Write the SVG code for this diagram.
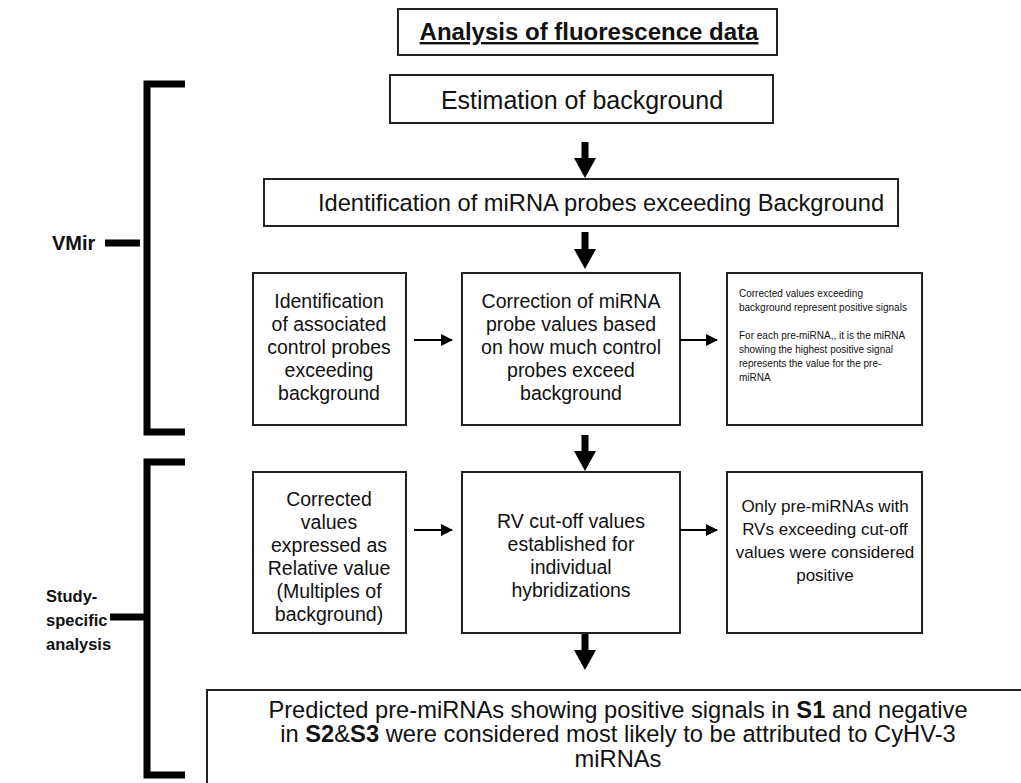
<svg xmlns="http://www.w3.org/2000/svg" width="1021" height="783" viewBox="0 0 1021 783">
  <style>
    text { font-family: "Liberation Sans", Arial, sans-serif; fill: #111; }
    .box { fill: #fff; stroke: #222; stroke-width: 2; }
    .c { text-anchor: middle; }
    .bold { font-weight: bold; }
    .thin { stroke: #000; stroke-width: 2; fill: none; }
    .thick { stroke: #000; stroke-width: 7; fill: none; }
    .head { fill: #000; }
    .brk { stroke: #000; stroke-width: 7; fill: none; }
  </style>
  <defs>
    <marker id="tri" viewBox="0 0 12 12" refX="11" refY="6" markerWidth="12" markerHeight="12" markerUnits="userSpaceOnUse" orient="auto">
      <path d="M0,0 L12,6 L0,12 Z" fill="#000"/>
    </marker>
  </defs>
  <rect width="1021" height="783" fill="#fff"/>

  <!-- title -->
  <g id="title">
    <rect class="box" x="398" y="9" width="379" height="46"/>
    <text class="c bold" x="589" y="40" font-size="24" text-decoration="underline">Analysis of fluorescence data</text>
  </g>

  <!-- section brackets -->
  <g id="bracket-vmir">
    <path class="brk" d="M185,84 H147 V432 H185"/>
    <path class="brk" d="M105,243 H140"/>
    <text class="bold" x="52" y="250" font-size="20">VMir</text>
  </g>
  <g id="bracket-study">
    <path class="brk" d="M185,462 H147 V775 H185"/>
    <path class="brk" d="M110,617 H147"/>
    <text class="bold" font-size="16.5"><tspan x="46" y="602">Study-</tspan><tspan x="46" y="626">specific</tspan><tspan x="46" y="650">analysis</tspan></text>
  </g>

  <g id="estimation">
    <rect class="box" x="390" y="75" width="383" height="48"/>
    <text class="c" x="582" y="109" font-size="25">Estimation of background</text>
  </g>

  <g id="identification">
    <rect class="box" x="264" y="179" width="634" height="47"/>
    <text class="c" x="601" y="211" font-size="23.7">Identification of miRNA probes exceeding Background</text>
  </g>

  <g id="control-probes">
    <rect class="box" x="253" y="273" width="153" height="152"/>
    <text class="c" font-size="19.5"><tspan x="329" y="308">Identification</tspan><tspan x="329" y="331">of associated</tspan><tspan x="329" y="354">control probes</tspan><tspan x="329" y="377">exceeding</tspan><tspan x="329" y="400">background</tspan></text>
  </g>

  <g id="correction">
    <rect class="box" x="462" y="273" width="218" height="152"/>
    <text class="c" font-size="19.5"><tspan x="571" y="308">Correction of miRNA</tspan><tspan x="571" y="331">probe values based</tspan><tspan x="571" y="354">on how much control</tspan><tspan x="571" y="377">probes exceed</tspan><tspan x="571" y="400">background</tspan></text>
  </g>

  <g id="positive-signals">
    <rect class="box" x="727" y="273" width="195" height="152"/>
    <text font-size="10"><tspan x="739" y="297">Corrected values exceeding</tspan><tspan x="739" y="311">background represent positive signals</tspan><tspan x="739" y="339">For each pre-miRNA,, it is the miRNA</tspan><tspan x="739" y="353">showing the highest positive signal</tspan><tspan x="739" y="367">represents the value for the pre-</tspan><tspan x="739" y="381">miRNA</tspan></text>
  </g>

  <g id="relative-value">
    <rect class="box" x="253" y="472" width="153" height="161"/>
    <text class="c" font-size="19.5"><tspan x="329" y="506">Corrected</tspan><tspan x="329" y="529">values</tspan><tspan x="329" y="552">expressed as</tspan><tspan x="329" y="575">Relative value</tspan><tspan x="329" y="598">(Multiples of</tspan><tspan x="329" y="621">background)</tspan></text>
  </g>

  <g id="cutoff">
    <rect class="box" x="462" y="472" width="218" height="161"/>
    <text class="c" font-size="19.5"><tspan x="571" y="528">RV cut-off values</tspan><tspan x="571" y="551">established for</tspan><tspan x="571" y="574">individual</tspan><tspan x="571" y="597">hybridizations</tspan></text>
  </g>

  <g id="only-positive">
    <rect class="box" x="727" y="472" width="195" height="161"/>
    <text class="c" font-size="17"><tspan x="825" y="512">Only pre-miRNAs with</tspan><tspan x="825" y="535">RVs exceeding cut-off</tspan><tspan x="825" y="558">values were considered</tspan><tspan x="825" y="581">positive</tspan></text>
  </g>

  <g id="predicted">
    <rect class="box" x="207" y="690" width="830" height="110"/>
    <text class="c" font-size="23.7"><tspan x="618" y="718">Predicted pre-miRNAs showing positive signals in <tspan class="bold">S1</tspan> and negative</tspan><tspan x="618" y="742">in <tspan class="bold">S2</tspan>&amp;<tspan class="bold">S3</tspan> were considered most likely to be attributed to CyHV-3</tspan><tspan x="618" y="767">miRNAs</tspan></text>
  </g>

  <!-- connectors -->
  <g id="connectors">
    <path class="thick" d="M585,142 V159"/>
    <path class="head" d="M574,158 H596 L585,178 Z"/>
    <path class="thick" d="M585,232 V250"/>
    <path class="head" d="M574,249 H596 L585,269 Z"/>
    <path class="thick" d="M585,435 V452"/>
    <path class="head" d="M574,451 H596 L585,471 Z"/>
    <path class="thick" d="M585,634 V651"/>
    <path class="head" d="M574,650 H596 L585,670 Z"/>
    <path class="thin" d="M414,340 H452" marker-end="url(#tri)"/>
    <path class="thin" d="M680,340 H717" marker-end="url(#tri)"/>
    <path class="thin" d="M414,530 H452" marker-end="url(#tri)"/>
    <path class="thin" d="M680,530 H717" marker-end="url(#tri)"/>
  </g>
</svg>
